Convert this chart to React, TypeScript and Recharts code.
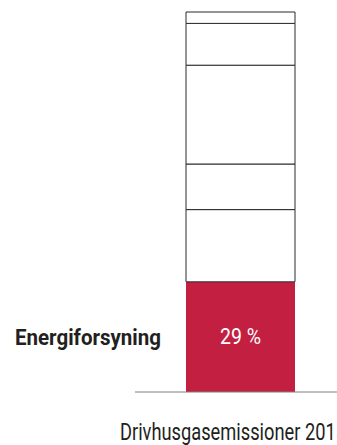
import { BarChart, Bar, XAxis, YAxis, LabelList } from "recharts";

const categories = ["Drivhusgasemissioner 2015"];
const segmentKeys = ["energi", "s2", "s3", "s4", "s5", "s6"];
const segmentValues = [29, 19, 12, 26, 11, 3];
const sectorLabels = ["Energiforsyning"];

const data = categories.map((name, i) => {
  const row: Record<string, string | number> = { name, sector: sectorLabels[i] };
  segmentKeys.forEach((k, j) => {
    row[k] = segmentValues[j];
  });
  return row;
});

// no narrow font installed, so squeeze Roboto with textLength
const font = "Roboto, 'Noto Sans', sans-serif";
const ink = "#231f20";

function CategoryTick(props: any) {
  const { x, y, payload } = props;
  return (
    <text
      x={x}
      y={y}
      dx={-7.5}
      dy={47.5}
      textAnchor="middle"
      fontSize={23}
      fill={ink}
      fontFamily={font}
      textLength={226}
      lengthAdjust="spacingAndGlyphs"
    >
      {payload.value}
    </text>
  );
}

function SectorLabel(props: any) {
  const { x, y, height, value } = props;
  return (
    <text
      x={x - 25}
      y={y + height / 2}
      dy={8}
      textAnchor="end"
      fontSize={22}
      fontWeight="bold"
      fill={ink}
      fontFamily={font}
      textLength={146}
      lengthAdjust="spacingAndGlyphs"
    >
      {value}
    </text>
  );
}

function ShareLabel(props: any) {
  const { x, y, width, height, value } = props;
  return (
    <text
      x={x + width / 2}
      y={y + height / 2}
      dy={7.5}
      textAnchor="middle"
      fontSize={22}
      fill="#ffffff"
      fontFamily={font}
      textLength={41}
      lengthAdjust="spacingAndGlyphs"
    >
      {`${value} %`}
    </text>
  );
}

export default function App() {
  return (
    <div style={{ width: 337, height: 445, overflow: "hidden", background: "#fff" }}>
      <style>{`body{margin:0}`}</style>
      <BarChart
        width={337}
        height={445}
        data={data}
        margin={{ top: 12, right: 0, bottom: 0, left: 135 }}
      >
        <XAxis
          dataKey="name"
          height={53}
          padding={{ left: 9, right: 0 }}
          axisLine={{ stroke: "#808080", strokeWidth: 1 }}
          tickLine={false}
          tickSize={0}
          tickMargin={0}
          tick={<CategoryTick />}
          interval={0}
        />
        <YAxis hide domain={[0, 100]} />
        {segmentKeys.map((k, j) => (
          <Bar
            key={k}
            dataKey={k}
            stackId="a"
            barSize={109}
            fill={j === 0 ? "#c31f41" : "#ffffff"}
            stroke={j === 0 ? "none" : "#2b2b2b"}
            strokeWidth={1}
            isAnimationActive={false}
          >
            {j === 0 && <LabelList dataKey="sector" content={<SectorLabel />} />}
            {j === 0 && <LabelList dataKey={k} content={<ShareLabel />} />}
          </Bar>
        ))}
      </BarChart>
    </div>
  );
}
